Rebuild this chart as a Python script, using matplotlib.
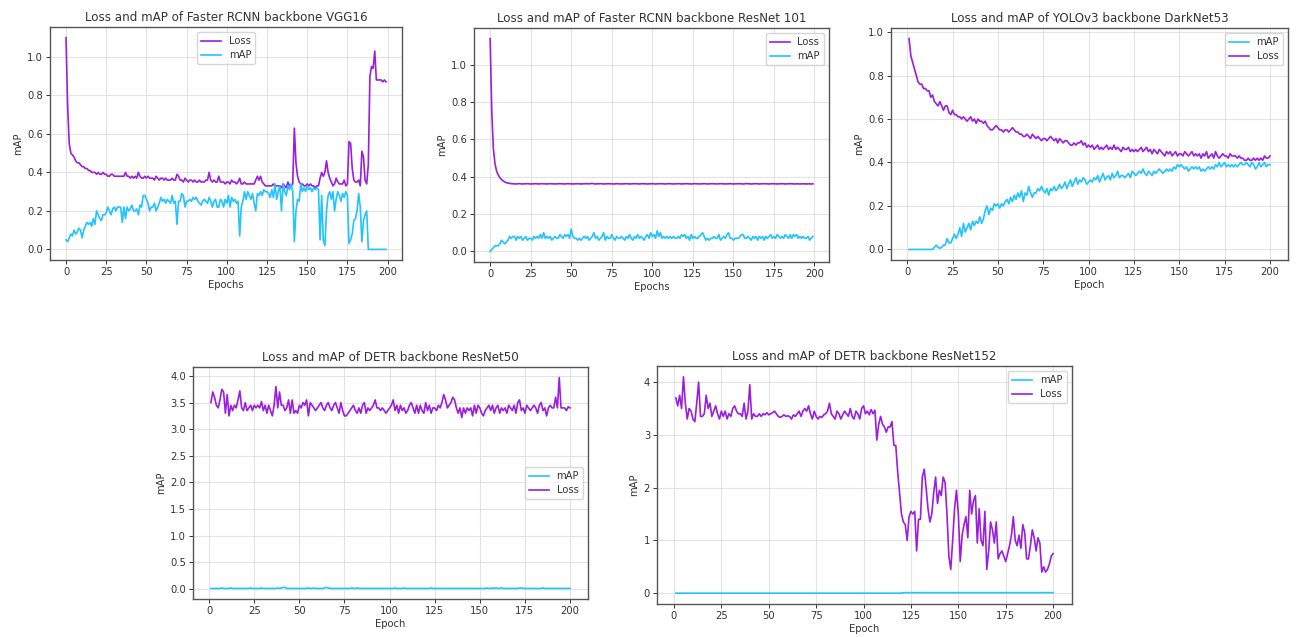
import numpy as np
import matplotlib
matplotlib.use('Agg')
import matplotlib.pyplot as plt

# ---- Faster RCNN VGG16 (epochs 0..199)
vgg_loss = [1.10,0.75,0.55,0.50,0.49,0.48,0.46,0.45,0.45,0.44,0.43,0.43,0.42,0.42,0.41,0.41,0.40,0.40,0.40,0.39,
            0.40,0.39,0.39,0.40,0.39,0.39,0.38,0.38,0.39,0.39,0.38,0.38,0.38,0.38,0.38,0.38,0.38,0.40,0.38,0.38,
            0.37,0.38,0.37,0.38,0.37,0.40,0.38,0.37,0.37,0.38,0.37,0.38,0.37,0.37,0.37,0.36,0.38,0.37,0.36,0.37,
            0.37,0.36,0.37,0.36,0.36,0.36,0.37,0.36,0.36,0.39,0.38,0.36,0.36,0.35,0.37,0.36,0.35,0.36,0.36,0.35,
            0.36,0.35,0.35,0.36,0.35,0.35,0.35,0.36,0.36,0.40,0.36,0.35,0.36,0.35,0.35,0.38,0.35,0.35,0.35,0.34,
            0.35,0.35,0.34,0.36,0.35,0.35,0.34,0.35,0.37,0.34,0.34,0.35,0.34,0.34,0.34,0.34,0.34,0.34,0.36,0.38,
            0.36,0.38,0.35,0.34,0.33,0.33,0.33,0.33,0.33,0.34,0.33,0.33,0.33,0.33,0.32,0.34,0.33,0.32,0.35,0.33,
            0.33,0.34,0.63,0.45,0.38,0.35,0.34,0.34,0.33,0.33,0.34,0.33,0.34,0.33,0.33,0.32,0.33,0.33,0.37,0.40,
            0.38,0.40,0.46,0.40,0.37,0.35,0.33,0.34,0.37,0.35,0.34,0.34,0.34,0.36,0.33,0.34,0.56,0.55,0.42,0.36,
            0.35,0.35,0.36,0.33,0.51,0.48,0.36,0.34,0.44,0.90,0.95,0.94,1.03,0.88,0.88,0.88,0.88,0.87,0.88,0.87]
vgg_map = [0.05,0.04,0.06,0.08,0.07,0.10,0.08,0.09,0.11,0.10,0.06,0.10,0.12,0.14,0.13,0.14,0.12,0.16,0.13,0.20,
           0.18,0.16,0.15,0.18,0.18,0.19,0.22,0.20,0.18,0.21,0.22,0.20,0.22,0.22,0.22,0.14,0.22,0.16,0.22,0.20,
           0.21,0.23,0.20,0.20,0.21,0.18,0.23,0.22,0.28,0.28,0.26,0.24,0.20,0.22,0.22,0.24,0.20,0.22,0.24,0.27,
           0.25,0.26,0.24,0.26,0.25,0.24,0.28,0.24,0.25,0.13,0.25,0.25,0.29,0.28,0.22,0.25,0.25,0.26,0.25,0.27,
           0.26,0.27,0.25,0.24,0.23,0.25,0.26,0.25,0.24,0.27,0.25,0.22,0.25,0.26,0.22,0.22,0.26,0.25,0.22,0.26,
           0.24,0.28,0.22,0.27,0.25,0.26,0.24,0.25,0.07,0.22,0.25,0.30,0.26,0.30,0.28,0.26,0.29,0.24,0.20,0.29,
           0.28,0.30,0.28,0.31,0.30,0.30,0.29,0.27,0.31,0.27,0.34,0.26,0.30,0.33,0.20,0.34,0.30,0.28,0.33,0.31,
           0.34,0.30,0.04,0.20,0.26,0.25,0.34,0.30,0.32,0.30,0.33,0.31,0.32,0.30,0.32,0.31,0.32,0.31,0.05,0.28,
           0.05,0.02,0.20,0.28,0.30,0.26,0.30,0.20,0.26,0.30,0.28,0.25,0.29,0.27,0.30,0.28,0.03,0.05,0.08,0.15,
           0.16,0.20,0.29,0.22,0.04,0.15,0.18,0.20,0.00,0.00,0.00,0.00,0.00,0.00,0.00,0.00,0.00,0.00,0.00,0.00]

# ---- Faster RCNN ResNet 101 (epochs 0..199)
r101_loss = [1.14,0.75,0.55,0.47,0.43,0.41,0.395,0.385,0.378,0.372,0.368,0.366,0.364,0.363,0.362,
             0.362,0.361,0.362,0.363,0.362,0.361,0.362,0.362,0.363,0.362,0.361,0.362,0.362,0.363,0.362,
             0.361,0.362,0.363,0.362,0.362,0.361,0.362,0.363,0.362,0.362,0.361,0.362,0.362,0.363,0.362,
             0.362,0.361,0.362,0.363,0.362,0.362,0.361,0.362,0.362,0.363,0.362,0.361,0.362,0.362,0.363,
             0.362,0.362,0.363,0.364,0.362,0.361,0.362,0.362,0.363,0.362,0.361,0.362,0.362,0.363,0.362,
             0.362,0.361,0.362,0.363,0.362,0.362,0.361,0.362,0.362,0.363,0.362,0.361,0.362,0.362,0.363,
             0.362,0.362,0.361,0.362,0.363,0.362,0.362,0.361,0.362,0.362,0.363,0.362,0.361,0.362,0.362,
             0.363,0.362,0.362,0.361,0.362,0.363,0.362,0.362,0.361,0.362,0.362,0.363,0.362,0.361,0.362,
             0.362,0.363,0.362,0.362,0.361,0.362,0.363,0.362,0.362,0.361,0.362,0.362,0.363,0.362,0.361,
             0.362,0.362,0.363,0.362,0.362,0.361,0.362,0.363,0.362,0.362,0.361,0.362,0.362,0.363,0.362,
             0.361,0.362,0.362,0.363,0.362,0.362,0.361,0.362,0.364,0.362,0.362,0.361,0.362,0.362,0.363,
             0.362,0.361,0.362,0.362,0.363,0.362,0.362,0.361,0.362,0.363,0.362,0.362,0.361,0.362,0.362,
             0.363,0.362,0.361,0.362,0.362,0.363,0.362,0.362,0.361,0.362,0.362,0.361,0.362,0.362,0.362,
             0.361,0.362,0.362,0.361,0.362]
r101_map = [0.00,0.01,0.02,0.03,0.03,0.03,0.04,0.06,0.05,0.04,0.05,0.06,0.08,0.07,0.08,
            0.08,0.06,0.08,0.07,0.08,0.06,0.07,0.08,0.06,0.07,0.07,0.06,0.08,0.07,0.08,
            0.07,0.09,0.07,0.10,0.07,0.08,0.07,0.08,0.06,0.07,0.08,0.07,0.07,0.09,0.08,
            0.07,0.09,0.08,0.09,0.07,0.12,0.08,0.07,0.07,0.06,0.07,0.06,0.07,0.08,0.07,
            0.08,0.06,0.07,0.08,0.10,0.07,0.08,0.06,0.07,0.08,0.10,0.06,0.08,0.07,0.07,
            0.09,0.07,0.06,0.08,0.07,0.07,0.08,0.07,0.06,0.08,0.07,0.09,0.07,0.06,0.08,
            0.07,0.09,0.07,0.08,0.07,0.06,0.08,0.09,0.07,0.10,0.08,0.09,0.07,0.11,0.08,
            0.10,0.07,0.08,0.07,0.08,0.07,0.08,0.07,0.08,0.07,0.07,0.08,0.07,0.09,0.08,
            0.09,0.07,0.08,0.06,0.09,0.07,0.08,0.07,0.07,0.08,0.09,0.10,0.08,0.06,0.07,
            0.06,0.07,0.07,0.08,0.07,0.07,0.09,0.06,0.07,0.08,0.07,0.09,0.10,0.07,0.07,
            0.06,0.07,0.07,0.07,0.08,0.09,0.09,0.07,0.07,0.08,0.07,0.06,0.08,0.07,0.08,
            0.06,0.08,0.07,0.08,0.06,0.08,0.07,0.08,0.09,0.07,0.08,0.07,0.09,0.08,0.07,
            0.08,0.07,0.09,0.08,0.07,0.09,0.07,0.09,0.08,0.09,0.07,0.08,0.07,0.08,0.07,
            0.07,0.08,0.06,0.07,0.08]

# ---- YOLOv3 DarkNet53 (epochs 1..200)
yolo_loss = [0.97,0.89,0.86,0.83,0.80,0.77,0.76,0.76,0.74,0.74,0.73,0.73,0.70,0.71,0.68,0.67,0.66,0.68,0.66,0.64,
             0.66,0.66,0.63,0.62,0.64,0.62,0.62,0.61,0.61,0.60,0.61,0.60,0.59,0.60,0.61,0.59,0.60,0.58,0.60,0.59,
             0.59,0.58,0.59,0.57,0.56,0.55,0.55,0.56,0.57,0.56,0.55,0.55,0.54,0.55,0.55,0.54,0.55,0.56,0.55,0.54,
             0.54,0.53,0.53,0.52,0.52,0.53,0.52,0.51,0.53,0.52,0.51,0.52,0.51,0.50,0.51,0.51,0.50,0.51,0.52,0.51,
             0.50,0.51,0.49,0.51,0.50,0.49,0.50,0.50,0.49,0.48,0.48,0.49,0.48,0.49,0.49,0.50,0.48,0.49,0.47,0.48,
             0.47,0.48,0.46,0.47,0.48,0.46,0.47,0.46,0.47,0.48,0.46,0.47,0.46,0.48,0.46,0.47,0.46,0.45,0.47,0.46,
             0.46,0.47,0.45,0.46,0.45,0.46,0.45,0.46,0.47,0.45,0.46,0.47,0.45,0.46,0.44,0.46,0.45,0.44,0.46,0.45,
             0.44,0.43,0.45,0.44,0.45,0.43,0.44,0.45,0.43,0.44,0.44,0.43,0.45,0.44,0.43,0.44,0.45,0.43,0.44,0.43,
             0.44,0.42,0.44,0.43,0.45,0.42,0.43,0.44,0.42,0.45,0.43,0.42,0.43,0.44,0.43,0.43,0.42,0.44,0.43,0.43,
             0.43,0.42,0.43,0.42,0.42,0.41,0.41,0.42,0.41,0.41,0.42,0.41,0.42,0.41,0.42,0.41,0.43,0.42,0.42,0.43]
yolo_map = [0,0,0,0,0,0,0,0,0,0,0,0,0,0,0.01,0.02,0.01,0.005,0.01,0.02,
            0.02,0.05,0.03,0.03,0.05,0.07,0.05,0.07,0.10,0.06,0.12,0.08,0.10,0.12,0.09,0.13,0.11,0.13,0.12,0.15,
            0.12,0.14,0.18,0.20,0.16,0.19,0.18,0.21,0.20,0.21,0.19,0.21,0.20,0.22,0.23,0.21,0.24,0.22,0.25,0.23,
            0.26,0.24,0.27,0.22,0.26,0.25,0.29,0.26,0.24,0.26,0.26,0.28,0.27,0.29,0.27,0.26,0.28,0.25,0.28,0.27,
            0.29,0.27,0.28,0.30,0.28,0.29,0.31,0.28,0.30,0.32,0.29,0.31,0.33,0.30,0.32,0.31,0.33,0.32,0.30,0.31,
            0.32,0.31,0.33,0.32,0.34,0.31,0.33,0.35,0.32,0.33,0.34,0.32,0.35,0.33,0.34,0.36,0.33,0.34,0.34,0.33,
            0.34,0.35,0.33,0.36,0.35,0.34,0.35,0.36,0.35,0.37,0.35,0.34,0.36,0.35,0.34,0.36,0.35,0.36,0.37,0.36,
            0.35,0.36,0.37,0.36,0.37,0.36,0.38,0.37,0.39,0.38,0.39,0.38,0.37,0.38,0.36,0.37,0.38,0.37,0.38,0.37,
            0.38,0.36,0.37,0.36,0.37,0.38,0.37,0.38,0.37,0.39,0.38,0.40,0.38,0.39,0.40,0.38,0.39,0.38,0.39,0.38,
            0.39,0.38,0.39,0.40,0.39,0.39,0.40,0.39,0.38,0.40,0.39,0.37,0.38,0.40,0.38,0.39,0.40,0.38,0.39,0.39]

# ---- DETR ResNet50 (epochs 1..200)
r50_loss = [3.50,3.70,3.60,3.45,3.40,3.55,3.75,3.70,3.30,3.65,3.25,3.45,3.35,3.45,3.40,3.55,3.72,3.40,3.35,3.50,
            3.35,3.40,3.45,3.35,3.45,3.40,3.45,3.40,3.52,3.35,3.45,3.30,3.45,3.35,3.25,3.45,3.80,3.40,3.70,3.45,
            3.45,3.35,3.40,3.55,3.30,3.55,3.30,3.35,3.30,3.45,3.40,3.50,3.45,3.55,3.25,3.50,3.45,3.40,3.35,3.40,
            3.45,3.50,3.40,3.35,3.45,3.50,3.40,3.35,3.45,3.50,3.40,3.30,3.50,3.35,3.25,3.25,3.30,3.35,3.40,3.45,
            3.35,3.30,3.40,3.30,3.45,3.50,3.30,3.40,3.35,3.40,3.45,3.55,3.40,3.40,3.35,3.40,3.35,3.30,3.35,3.40,
            3.45,3.55,3.35,3.45,3.30,3.45,3.35,3.40,3.30,3.35,3.45,3.50,3.40,3.30,3.45,3.30,3.45,3.35,3.30,3.50,
            3.35,3.45,3.30,3.40,3.40,3.35,3.45,3.40,3.50,3.65,3.55,3.40,3.45,3.50,3.60,3.55,3.40,3.30,3.40,3.22,
            3.40,3.30,3.40,3.35,3.40,3.25,3.45,3.30,3.45,3.40,3.30,3.25,3.35,3.40,3.45,3.35,3.45,3.30,3.40,3.45,
            3.30,3.40,3.35,3.40,3.30,3.45,3.40,3.35,3.45,3.30,3.50,3.55,3.35,3.40,3.30,3.45,3.40,3.35,3.40,3.45,
            3.40,3.30,3.45,3.50,3.35,3.40,3.25,3.40,3.45,3.40,3.40,3.60,3.40,3.97,3.40,3.40,3.40,3.35,3.42,3.40]
r50_map = [0.01,0.01,0.01,0.01,0.01,0.01,0.02,0.01,0.01,0.01,0.01,0.02,0.01,0.01,0.01,0.01,0.01,0.01,0.01,0.01,
           0.01,0.01,0.02,0.01,0.01,0.01,0.01,0.01,0.02,0.01,0.01,0.01,0.01,0.01,0.01,0.01,0.01,0.02,0.01,0.02,
           0.03,0.03,0.01,0.01,0.01,0.01,0.01,0.01,0.01,0.01,0.01,0.01,0.01,0.01,0.02,0.01,0.01,0.02,0.01,0.01,
           0.01,0.01,0.01,0.02,0.03,0.02,0.01,0.01,0.01,0.01,0.01,0.01,0.01,0.01,0.01,0.01,0.01,0.01,0.02,0.01,
           0.01,0.02,0.01,0.01,0.01,0.01,0.01,0.01,0.01,0.01,0.01,0.01,0.01,0.01,0.01,0.01,0.01,0.01,0.01,0.01,
           0.01,0.01,0.02,0.01,0.01,0.01,0.01,0.02,0.01,0.01,0.01,0.01,0.01,0.01,0.01,0.01,0.01,0.01,0.01,0.01,
           0.01,0.01,0.02,0.01,0.01,0.01,0.01,0.01,0.01,0.01,0.01,0.01,0.01,0.01,0.01,0.01,0.01,0.01,0.01,0.01,
           0.01,0.01,0.01,0.01,0.01,0.01,0.01,0.01,0.01,0.01,0.01,0.01,0.01,0.02,0.01,0.01,0.02,0.01,0.02,0.01,
           0.01,0.02,0.01,0.01,0.01,0.01,0.01,0.01,0.01,0.01,0.01,0.02,0.02,0.01,0.01,0.01,0.01,0.01,0.01,0.01,
           0.01,0.01,0.01,0.01,0.02,0.01,0.01,0.01,0.01,0.01,0.01,0.01,0.01,0.01,0.01,0.01,0.01,0.01,0.01,0.01]

# ---- DETR ResNet152 (epochs 1..200)
r152_loss = [3.70,3.55,3.75,3.50,4.10,3.60,3.30,3.50,3.45,3.30,3.25,3.60,4.00,3.35,3.35,3.40,3.75,3.50,3.60,3.35,
             3.45,3.55,3.40,3.30,3.45,3.35,3.45,3.30,3.40,3.35,3.50,3.55,3.45,3.40,3.40,3.35,3.60,3.30,3.45,3.95,
             3.30,3.40,3.35,3.35,3.40,3.35,3.40,3.38,3.42,3.38,3.40,3.42,3.45,3.40,3.35,3.33,3.35,3.38,3.35,3.36,
             3.35,3.30,3.38,3.35,3.40,3.45,3.35,3.45,3.50,3.45,3.55,3.40,3.30,3.45,3.35,3.30,3.35,3.33,3.38,3.40,
             3.45,3.60,3.40,3.35,3.30,3.45,3.40,3.30,3.38,3.45,3.40,3.35,3.50,3.35,3.30,3.45,3.40,3.30,3.50,3.55,
             3.40,3.45,3.38,3.48,3.40,3.47,2.90,3.20,3.35,3.20,3.15,3.05,3.15,3.15,3.25,2.80,2.80,2.30,1.90,1.50,
             1.35,1.30,1.00,1.45,1.55,1.50,1.55,0.80,1.40,1.40,2.20,2.35,2.00,1.60,1.35,1.50,1.90,2.20,1.70,1.95,
             1.85,2.20,2.10,1.50,0.70,0.45,1.00,1.60,1.95,1.50,0.60,1.10,1.30,1.45,1.05,1.95,1.50,1.75,1.85,0.95,
             1.60,1.00,0.90,1.55,0.45,0.80,1.35,1.20,0.95,1.35,0.65,0.75,0.80,0.70,0.60,0.75,0.90,1.10,1.45,1.00,
             0.90,1.10,0.85,1.30,1.15,0.65,0.65,0.90,1.20,1.05,0.80,1.05,0.95,0.40,0.50,0.40,0.45,0.55,0.70,0.75]
r152_map = [0.00,0.00,0.00,0.00,0.00,0.00,0.00,0.00,0.00,0.00,0.00,0.00,0.00,0.00,0.00,0.00,0.00,0.00,0.00,0.00,
            0.00,0.00,0.00,0.00,0.00,0.00,0.00,0.00,0.00,0.00,0.00,0.00,0.00,0.00,0.00,0.00,0.00,0.00,0.00,0.00,
            0.00,0.00,0.00,0.00,0.00,0.00,0.00,0.00,0.00,0.00,0.00,0.00,0.00,0.00,0.00,0.00,0.00,0.00,0.00,0.00,
            0.00,0.00,0.00,0.00,0.00,0.00,0.00,0.00,0.00,0.00,0.00,0.00,0.00,0.00,0.00,0.00,0.00,0.00,0.00,0.00,
            0.00,0.00,0.00,0.00,0.00,0.00,0.00,0.00,0.00,0.00,0.00,0.00,0.00,0.00,0.00,0.00,0.00,0.00,0.00,0.00,
            0.00,0.00,0.00,0.00,0.00,0.00,0.00,0.00,0.00,0.00,0.00,0.00,0.00,0.00,0.00,0.00,0.00,0.00,0.00,0.00,
            0.01,0.01,0.01,0.01,0.01,0.01,0.01,0.01,0.01,0.01,0.01,0.01,0.01,0.01,0.01,0.01,0.01,0.01,0.01,0.01,
            0.01,0.01,0.01,0.01,0.01,0.01,0.01,0.01,0.01,0.01,0.01,0.01,0.01,0.01,0.01,0.01,0.01,0.01,0.01,0.01,
            0.01,0.01,0.01,0.01,0.01,0.01,0.01,0.01,0.01,0.01,0.01,0.01,0.01,0.01,0.01,0.01,0.01,0.01,0.01,0.01,
            0.01,0.01,0.01,0.01,0.01,0.01,0.01,0.01,0.01,0.01,0.01,0.01,0.01,0.01,0.01,0.01,0.01,0.01,0.01,0.01]

LOSS_C = '#9a1fdd'
MAP_C = '#22c3ff'
W, H = 1296, 637

plt.rcParams['font.family'] = 'DejaVu Sans'
plt.rcParams['font.size'] = 7.2
plt.rcParams['text.color'] = '#333333'
plt.rcParams['axes.labelcolor'] = '#333333'
plt.rcParams['xtick.color'] = '#333333'
plt.rcParams['ytick.color'] = '#333333'

fig = plt.figure(figsize=(W / 100, H / 100), dpi=100)


def box(l, t, r, b):
    return [l / W, 1 - b / H, (r - l) / W, (b - t) / H]


def panel(rect, title, xlabel, series, start, legend_loc):
    ax = fig.add_axes(box(*rect))
    for name, vals, col in series:
        x = np.arange(start, start + len(vals))
        ax.plot(x, vals, color=col, linewidth=1.2, label=name)
    ax.set_title(title, fontsize=8.6, pad=4)
    ax.set_xlabel(xlabel, labelpad=2)
    ax.set_ylabel('mAP', labelpad=3)
    ax.set_xticks([0, 25, 50, 75, 100, 125, 150, 175, 200])
    ax.grid(True, color='#dddddd', linewidth=0.8, alpha=0.8)
    for s in ax.spines.values():
        s.set_color('#555555')
        s.set_linewidth(1.0)
    ax.tick_params(length=3, width=0.7, pad=2)
    ax.legend(loc=legend_loc, fontsize=7.2, handlelength=2.0, borderpad=0.4, labelspacing=0.4)
    return ax


panel((50, 27, 402, 260), 'Loss and mAP of Faster RCNN backbone VGG16', 'Epochs',
      [('Loss', vgg_loss, LOSS_C), ('mAP', vgg_map, MAP_C)], 0, 'upper center')
panel((474, 28, 829, 262), 'Loss and mAP of Faster RCNN backbone ResNet 101', 'Epochs',
      [('Loss', r101_loss, LOSS_C), ('mAP', r101_map, MAP_C)], 0, 'upper right')
panel((891, 28, 1288, 260), 'Loss and mAP of YOLOv3 backbone DarkNet53', 'Epoch',
      [('mAP', yolo_map, MAP_C), ('Loss', yolo_loss, LOSS_C)], 1, 'upper right')
ax4 = panel((193, 367, 588, 599), 'Loss and mAP of DETR backbone ResNet50', 'Epoch',
            [('mAP', r50_map, MAP_C), ('Loss', r50_loss, LOSS_C)], 1, 'center right')
ax4.set_yticks(np.arange(0, 4.01, 0.5))
panel((657, 366, 1072, 604), 'Loss and mAP of DETR backbone ResNet152', 'Epoch',
      [('mAP', r152_map, MAP_C), ('Loss', r152_loss, LOSS_C)], 1, 'upper right')

fig.savefig('out.png', dpi=100)
